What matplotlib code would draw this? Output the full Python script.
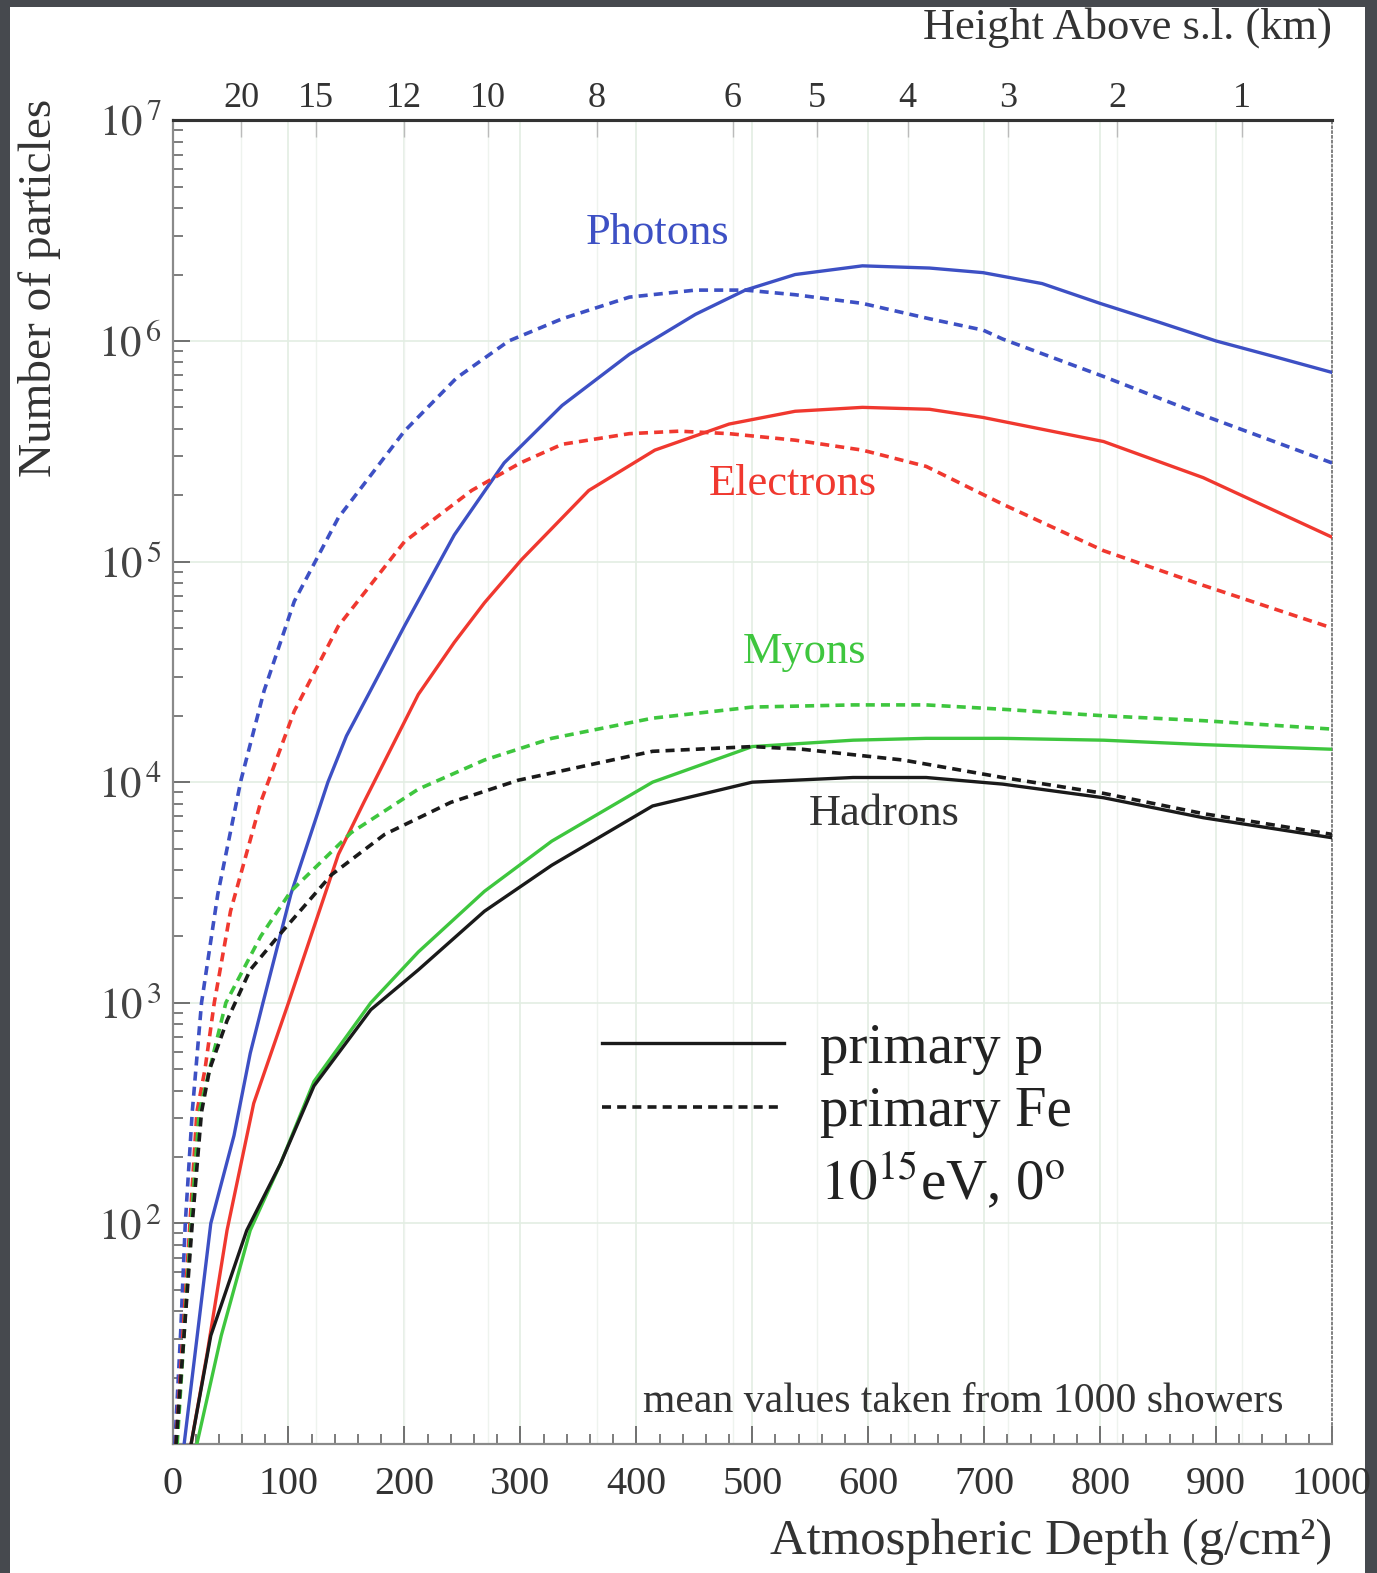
import matplotlib
matplotlib.use('Agg')
import matplotlib.pyplot as plt
from matplotlib.patches import Rectangle
from matplotlib.lines import Line2D
from matplotlib.ticker import MultipleLocator, LogLocator, NullFormatter

plt.rcParams['font.family'] = ['Liberation Serif', 'DejaVu Serif']
plt.rcParams['mathtext.fontset'] = 'stix'

# atmospheric depth (g/cm2) and number of particles
photon_p_x = [10, 33, 53, 67, 78, 102, 134, 150, 169, 200, 243, 286, 336, 394, 451, 494, 537, 595, 653, 699, 750, 800, 850, 900, 950, 1000]
photon_p_n = [1.0e1, 1.0e2, 2.5e2, 5.9e2, 1.0e3, 3.1e3, 1.0e4, 1.62e4, 2.5e4, 5.1e4, 1.32e5, 2.8e5, 5.1e5, 8.7e5, 1.32e6, 1.7e6, 2.0e6, 2.19e6, 2.14e6, 2.04e6, 1.82e6, 1.48e6, 1.22e6, 1.0e6, 8.5e5, 7.2e5]

photon_fe_x = [2, 7, 11, 17, 25, 39, 59, 79, 105, 143, 200, 245, 290, 336, 394, 451, 494, 537, 595, 653, 699, 716, 803, 889, 1000]
photon_fe_n = [1.0e1, 3.2e1, 1.0e2, 3.2e2, 1.0e3, 3.1e3, 1.02e4, 2.6e4, 6.6e4, 1.58e5, 3.9e5, 6.8e5, 1.0e6, 1.26e6, 1.58e6, 1.7e6, 1.7e6, 1.62e6, 1.48e6, 1.26e6, 1.12e6, 1.02e6, 6.9e5, 4.6e5, 2.8e5]

electron_p_x = [16, 30, 47, 70, 100, 143, 165, 212, 243, 269, 301, 359, 416, 480, 537, 595, 653, 699, 803, 889, 1000]
electron_p_n = [1.0e1, 2.6e1, 9.3e1, 3.5e2, 1.0e3, 4.7e3, 8.1e3, 2.5e4, 4.3e4, 6.5e4, 1.02e5, 2.1e5, 3.2e5, 4.2e5, 4.8e5, 5.0e5, 4.9e5, 4.5e5, 3.5e5, 2.4e5, 1.29e5]

electron_fe_x = [3, 15, 21, 28, 36, 50, 76, 105, 143, 200, 258, 300, 336, 394, 437, 480, 537, 595, 650, 716, 803, 889, 1000]
electron_fe_n = [1.0e1, 1.0e2, 3.2e2, 5.0e2, 1.0e3, 2.6e3, 8.1e3, 2.1e4, 5.1e4, 1.23e5, 2.1e5, 2.8e5, 3.4e5, 3.8e5, 3.9e5, 3.8e5, 3.55e5, 3.2e5, 2.7e5, 1.82e5, 1.12e5, 7.8e4, 5.0e4]

muon_p_x = [21, 42, 67, 93, 122, 171, 212, 269, 327, 414, 500, 587, 650, 716, 803, 889, 1000]
muon_p_n = [1.0e1, 3.1e1, 9.3e1, 1.86e2, 4.4e2, 1.0e3, 1.7e3, 3.2e3, 5.4e3, 1.0e4, 1.45e4, 1.55e4, 1.58e4, 1.58e4, 1.55e4, 1.48e4, 1.41e4]

muon_fe_x = [4, 16, 23, 32, 46, 76, 102, 154, 212, 269, 327, 414, 500, 587, 650, 716, 803, 889, 1000]
muon_fe_n = [1.0e1, 1.0e2, 3.2e2, 5.0e2, 1.0e3, 2.0e3, 3.2e3, 5.9e3, 9.3e3, 1.26e4, 1.58e4, 1.95e4, 2.19e4, 2.24e4, 2.24e4, 2.14e4, 2.0e4, 1.9e4, 1.74e4]

hadron_p_x = [16, 33, 64, 93, 122, 171, 212, 269, 327, 414, 500, 587, 650, 716, 803, 889, 1000]
hadron_p_n = [1.0e1, 3.1e1, 9.3e1, 1.86e2, 4.2e2, 9.3e2, 1.41e3, 2.6e3, 4.2e3, 7.8e3, 1.0e4, 1.05e4, 1.05e4, 9.8e3, 8.5e3, 6.9e3, 5.6e3]

hadron_fe_x = [3, 17, 25, 32, 47, 67, 91, 137, 183, 240, 298, 414, 500, 543, 630, 716, 803, 889, 1000]
hadron_fe_n = [1.0e1, 1.0e2, 3.2e2, 5.0e2, 8.3e2, 1.41e3, 2.0e3, 3.8e3, 5.8e3, 8.1e3, 1.02e4, 1.38e4, 1.45e4, 1.41e4, 1.26e4, 1.05e4, 8.9e3, 7.2e3, 5.8e3]

# top axis: height above sea level and the matching depth
heights_km = [20, 15, 12, 10, 8, 6, 5, 4, 3, 2, 1]
height_depth = [59, 124, 200, 272, 366, 483, 556, 634, 721, 815, 922]

y_ticks = [1e1, 1e2, 1e3, 1e4, 1e5, 1e6, 1e7]
y_labels = ['', r'$10^{\,2}$', r'$10^{\,3}$', r'$10^{\,4}$', r'$10^{\,5}$', r'$10^{\,6}$', r'$10^{\,7}$']

BLUE = '#3d50c4'
RED = '#f0382f'
GREEN = '#3ec63e'
BLACK = '#1a1a1a'
DASH = (2.5, 1.7)

fig = plt.figure(figsize=(13.77, 15.73), dpi=100, facecolor='#46494e')
fig.patches.append(Rectangle((10 / 1377, 0), 1355 / 1377, 1 - 7 / 1573,
                             transform=fig.transFigure, facecolor='white',
                             edgecolor='none', zorder=-10))
ax = fig.add_axes([0.1253, 0.0820, 0.8420, 0.8415])
ax.set_yscale('log')
ax.set_xlim(0, 1000)
ax.set_ylim(10, 1e7)

# faint grid
for v in range(100, 1000, 100):
    ax.axvline(v, color='#e3eee3', lw=1.2, zorder=0)
for v in height_depth:
    ax.axvline(v, color='#eef3ee', lw=1.0, zorder=0)
for v in y_ticks[1:-1]:
    ax.axhline(v, color='#e3eee3', lw=1.2, zorder=0)

curves = [
    (photon_p_x, photon_p_n, BLUE, False),
    (photon_fe_x, photon_fe_n, BLUE, True),
    (electron_p_x, electron_p_n, RED, False),
    (electron_fe_x, electron_fe_n, RED, True),
    (muon_p_x, muon_p_n, GREEN, False),
    (muon_fe_x, muon_fe_n, GREEN, True),
    (hadron_p_x, hadron_p_n, BLACK, False),
    (hadron_fe_x, hadron_fe_n, BLACK, True),
]
for xs, ns, c, dashed in curves:
    if dashed:
        ax.plot(xs, ns, color=c, lw=2.6, dashes=DASH, zorder=3)
    else:
        ax.plot(xs, ns, color=c, lw=2.4, zorder=3, solid_joinstyle='round')

# curve labels
ax.text(418, 10**6.49, 'Photons', color=BLUE, fontsize=32, ha='center', va='center')
ax.text(535, 10**5.35, 'Electrons', color=RED, fontsize=32, ha='center', va='center')
ax.text(545, 10**4.59, 'Myons', color=GREEN, fontsize=32, ha='center', va='center')
ax.text(614, 10**3.855, 'Hadrons', color='#333333', fontsize=32, ha='center', va='center')
ax.text(682, 10**1.19, 'mean values taken from 1000 showers', color='#333333',
        fontsize=30, ha='center', va='center')

handles = [Line2D([], [], color=BLACK, lw=2.4),
           Line2D([], [], color=BLACK, lw=2.6, dashes=DASH),
           Line2D([], [], color='none')]
labels = ['primary p', 'primary Fe', r'$10^{15}$eV, 0$^{\mathrm{o}}$']
leg = ax.legend(handles, labels, loc='upper left', bbox_to_anchor=(0.370, 0.318),
                frameon=False, fontsize=41, handlelength=3.2, handletextpad=0.63,
                labelspacing=0.2, borderpad=0, borderaxespad=0)
for t in leg.get_texts():
    t.set_color('#222222')

# axes styling
for s in ['left', 'bottom']:
    ax.spines[s].set_color('#8a8a8a')
    ax.spines[s].set_linewidth(1.6)
ax.spines['top'].set_color('#333333')
ax.spines['top'].set_linewidth(2.2)
ax.spines['right'].set_color('#777777')
ax.spines['right'].set_linewidth(1.3)
ax.spines['right'].set_linestyle(':')

ax.xaxis.set_major_locator(MultipleLocator(100))
ax.xaxis.set_minor_locator(MultipleLocator(20))
ax.set_yticks(y_ticks)
ax.set_yticklabels(y_labels)
ax.yaxis.set_minor_locator(LogLocator(base=10, subs=range(2, 10), numticks=20))
ax.yaxis.set_minor_formatter(NullFormatter())
ax.tick_params(axis='both', which='both', direction='in', top=False, right=False,
               color='#666666')
ax.tick_params(axis='x', which='major', length=13, width=1.3, labelsize=29, pad=16,
               labelcolor='#333333')
ax.tick_params(axis='x', which='minor', length=7, width=1.2)
ax.tick_params(axis='y', which='major', length=12, width=1.3, labelsize=31, pad=8,
               labelcolor='#444444')
ax.tick_params(axis='y', which='minor', length=7, width=1.2)

sec = ax.secondary_xaxis('top')
sec.set_xticks(height_depth, labels=[str(h) for h in heights_km])
sec.tick_params(direction='in', length=12, width=1.0, color='#bbbbbb', labelsize=26,
                pad=4, labelcolor='#333333')
sec.spines['top'].set_color('#333333')
sec.spines['top'].set_linewidth(2.2)

fig.text(1332 / 1377, 1 - 28 / 1573, 'Height Above s.l. (km)', fontsize=32,
         ha='right', va='center', color='#333333')
fig.text(1332 / 1377, 1 - 1542 / 1573, 'Atmospheric Depth (g/cm²)', fontsize=36.5,
         ha='right', va='center', color='#333333')
fig.text(40 / 1377, 1 - 288 / 1573, 'Number of particles', fontsize=34,
         rotation=90, ha='center', va='center', color='#333333')

fig.savefig('out.png', dpi=100, facecolor=fig.get_facecolor())
